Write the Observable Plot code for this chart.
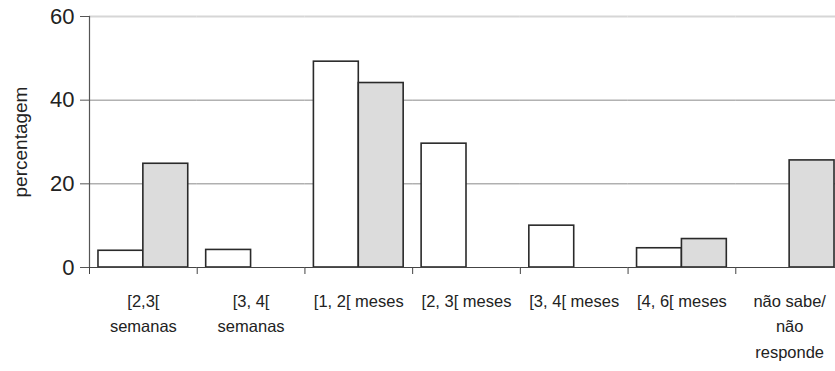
<!DOCTYPE html>
<html>
<head>
<meta charset="utf-8">
<script src="https://cdn.jsdelivr.net/npm/d3@7"></script>
<script src="https://cdn.jsdelivr.net/npm/@observablehq/plot@0.6"></script>
<style>
  html, body { margin: 0; padding: 0; background: #fff; }
  #chart svg { display: block; }
</style>
</head>
<body>
<div id="chart"></div>
<script>
const categories = ["[2,3[ semanas", "[3, 4[ semanas", "[1, 2[ meses", "[2, 3[ meses", "[3, 4[ meses", "[4, 6[ meses", "não sabe/ não responde"];
const tickLabels = ["[2,3[\nsemanas", "[3, 4[\nsemanas", "[1, 2[ meses", "[2, 3[ meses", "[3, 4[ meses", "[4, 6[ meses", "não sabe/\nnão\nresponde"];
const series = ["série 1", "série 2"];
const valuesSerie1 = [4.0, 4.2, 49.2, 29.6, 10.0, 4.6, 0];
const valuesSerie2 = [24.8, 0, 44.1, 0, 0, 6.8, 25.6];
const yTicks = [0, 20, 40, 60];
const gridValues = [20, 40];
const topGrid = [60];

const data = categories.flatMap((c, i) => [
  {cat: c, serie: series[0], value: valuesSerie1[i]},
  {cat: c, serie: series[1], value: valuesSerie2[i]}
]);

const W = 835, H = 371, ML = 89, MR = -8;
const half = (W - ML - MR) / categories.length / 2;
const font = "'Liberation Sans', 'DejaVu Sans', sans-serif";

const chart = Plot.plot({
  width: W,
  height: H,
  marginTop: 16,
  marginLeft: ML,
  marginRight: MR,
  marginBottom: 104,
  style: {fontFamily: font, color: "#222", background: "#fff"},
  fx: {domain: categories, padding: 0, round: false, label: null},
  x: {domain: series, paddingInner: 0, paddingOuter: 0.2, round: false, axis: null},
  y: {domain: [0, 60], label: null},
  marks: [
    Plot.ruleY(gridValues, {stroke: "#8a8a8a", strokeWidth: 1}),
    Plot.ruleY(topGrid, {stroke: "#d6d6d6", strokeWidth: 2}),
    Plot.barY(data.filter(d => d.value > 0), {
      fx: "cat", x: "serie", y: "value",
      fill: d => d.serie === series[0] ? "#ffffff" : "#dcdcdc",
      stroke: "#2a2a2a", strokeWidth: 1.6
    }),
    Plot.ruleY([0], {stroke: "#444", strokeWidth: 1.2}),
    Plot.frame({anchor: "left", facetAnchor: "left", stroke: "#555", strokeWidth: 1.2}),
    Plot.axisFx({anchor: "bottom", tickSize: 7, tickFormat: () => "", dx: -half, stroke: "#444", label: null}),
    Plot.axisFx({
      anchor: "bottom",
      tickSize: 0, tickPadding: 21, lineHeight: 1.55,
      tickFormat: d => tickLabels[categories.indexOf(d)],
      fontSize: 16.5, fill: "#222", label: null
    }),
    Plot.axisY({
      ticks: yTicks, tickSize: 9, tickPadding: 6, fontSize: 22,
      stroke: "#555", fill: "#222", label: null
    }),
    Plot.axisY({
      ticks: [], fontSize: 19, fill: "#222",
      label: "percentagem", labelAnchor: "center", labelArrow: "none", labelOffset: 76
    })
  ]
});
document.getElementById("chart").append(chart);
</script>
</body>
</html>
